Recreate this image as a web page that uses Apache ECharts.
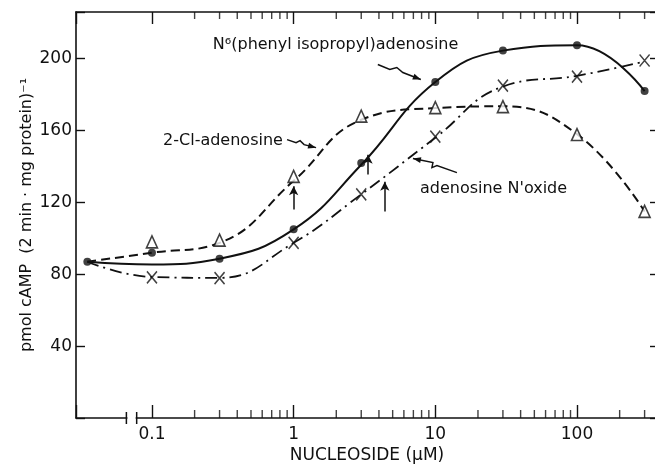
<!DOCTYPE html>
<html>
<head>
<meta charset="utf-8">
<script src="https://cdn.jsdelivr.net/npm/echarts@6/dist/echarts.min.js"></script>
<style>
  html, body { margin: 0; padding: 0; background: #fff; }
  #chart { width: 655px; height: 464px; }
</style>
</head>
<body>
<div id="chart"></div>
<script>
// nucleoside concentration (uM); first entry is the control, drawn left of the axis break
const conc = [0.035, 0.1, 0.3, 1, 3, 10, 30, 100, 300]

// measured points
const piaValues = [87, 92, 88.7, 105, 142, 187, 204.5, 207.5, 182]
const clAdoValues = [null, 98, 99, 134.5, 168, 172.8, 173.3, 157.8, 115]
const oxideValues = [null, 78.3, 77.8, 97.5, 124.5, 156.6, 185, 190, 199]

// the hand-drawn curves at the same concentrations
const piaCurve = [87, 85.5, 88.7, 105, 141, 187, 204.5, 207.5, 182]
const clAdoCurve = [87, 92, 97.5, 132, 166, 172.5, 173.5, 158, 115]
const oxideCurve = [87, 78.5, 78, 97.5, 124.5, 156, 184.5, 190.5, 198.5]

const xMajorTicks = [0.1, 1, 10, 100]
const xTickLabels = ['0.1', '1', '10', '100']
const xMinorTicks = [0.2, 0.3, 0.4, 0.5, 0.6, 0.7, 0.8, 0.9, 2, 3, 4, 5, 6, 7, 8, 9, 20, 30, 40, 50, 60, 70, 80, 90, 200, 300]
const yTicks = [40, 80, 120, 160, 200]

// small upward arrows: [conc, from, to]
const upArrows = [[1, 116, 129], [3.35, 135.5, 146.5], [4.4, 115, 131.5]]

const X_MIN = 0.0291
const X_MAX = 373
const Y_MAX = 226
const ink = '#111'
const font = 'DejaVu Sans'

const chart = echarts.init(document.getElementById('chart'))

function pairs(values) {
  const out = []
  for (let i = 0; i < conc.length; i++) {
    if (values[i] != null) out.push([conc[i], values[i]])
  }
  return out
}

function tickLabel(v) {
  const i = xMajorTicks.findIndex(t => Math.abs(Math.log10(t) - Math.log10(v)) < 1e-6)
  return i < 0 ? '' : xTickLabels[i]
}

function xAxis(position, len, showLabel) {
  return {
    type: 'log',
    logBase: 10,
    position: position,
    min: X_MIN,
    max: X_MAX,
    axisLine: { show: true, onZero: false, lineStyle: { color: ink, width: 1.6 } },
    axisTick: { show: true, inside: true, length: len, lineStyle: { color: ink, width: 1.4 } },
    axisLabel: {
      show: showLabel,
      customValues: xMajorTicks,
      margin: 8,
      color: ink,
      fontFamily: font,
      fontSize: 17,
      formatter: tickLabel
    },
    minorTick: { show: false },
    splitLine: { show: false }
  }
}

const xAxes = [xAxis('bottom', 13, true), xAxis('top', 12, false)]
Object.assign(xAxes[0], {
  name: 'NUCLEOSIDE (\u00b5M)',
  nameLocation: 'middle',
  nameGap: 29,
  nameMoveOverlap: false,
  nameTextStyle: { color: ink, fontFamily: font, fontSize: 17 }
})

function yAxis(position, showLabel, len) {
  return {
    type: 'value',
    position: position,
    min: 0,
    max: Y_MAX,
    interval: 40,
    axisLine: { show: true, onZero: false, lineStyle: { color: ink, width: 1.6 } },
    axisTick: { show: true, inside: true, length: len, lineStyle: { color: ink, width: 1.4 } },
    axisLabel: { show: showLabel, customValues: yTicks, margin: 4, color: ink, fontFamily: font, fontSize: 17 },
    splitLine: { show: false }
  }
}

const yAxes = [yAxis('left', true, 9), yAxis('right', false, 8)]
Object.assign(yAxes[0], {
  name: 'pmol cAMP  (2 min \u00b7 mg protein)\u207b\u00b9',
  nameLocation: 'middle',
  nameRotate: 90,
  nameGap: 41,
  nameMoveOverlap: false,
  nameTextStyle: { color: ink, fontFamily: font, fontSize: 16 }
})

// minor log ticks on bottom and top edges, placed through the axis scales
const minorTickStyle = {
  type: 'scatter',
  symbol: 'rect',
  silent: true,
  clip: false,
  itemStyle: { color: ink },
  z: 1
}

chart.setOption({
  animation: false,
  backgroundColor: '#fff',
  grid: { left: 76, right: -3, top: 12, bottom: 46, outerBoundsMode: 'none', containLabel: false },
  xAxis: xAxes,
  yAxis: yAxes,
  series: [
    {
      name: 'N6 curve',
      type: 'line',
      data: pairs(piaCurve),
      smooth: 0.45,
      symbol: 'none',
      lineStyle: { color: ink, width: 2 }
    },
    {
      name: '2-Cl curve',
      type: 'line',
      data: pairs(clAdoCurve),
      smooth: 0.45,
      symbol: 'none',
      lineStyle: { color: ink, width: 2, type: [9, 5] }
    },
    {
      name: 'oxide curve',
      type: 'line',
      data: pairs(oxideCurve),
      smooth: 0.45,
      symbol: 'none',
      lineStyle: { color: ink, width: 1.8, type: [12, 5, 2, 5] }
    },
    {
      name: 'N6(phenyl isopropyl)adenosine',
      type: 'scatter',
      data: pairs(piaValues),
      symbol: 'circle',
      symbolSize: 8,
      itemStyle: { color: ink },
      z: 5,
      markLine: {
        silent: true,
        symbol: ['none', 'arrow'],
        symbolSize: [7, 9],
        label: { show: false },
        lineStyle: { color: ink, width: 1.5, type: 'solid' },
        data: upArrows.map(a => [{ coord: [a[0], a[1]] }, { coord: [a[0], a[2]] }])
      }
    },
    {
      name: '2-Cl-adenosine',
      type: 'scatter',
      data: pairs(clAdoValues),
      symbol: 'triangle',
      symbolSize: [11, 12],
      itemStyle: { color: '#fff', borderColor: ink, borderWidth: 1.6 },
      z: 5
    },
    {
      name: 'adenosine N\'oxide',
      type: 'scatter',
      data: pairs(oxideValues),
      symbol: 'path://M0,0L10,12M10,0L0,12',
      symbolSize: [10, 12],
      itemStyle: { color: 'none', borderColor: ink, borderWidth: 1.6 },
      z: 5
    },
    Object.assign({
      name: 'minor ticks bottom',
      data: xMinorTicks.map(v => [v, 0]),
      symbolSize: [1.4, 8],
      symbolOffset: [0, -4]
    }, minorTickStyle),
    Object.assign({
      name: 'minor ticks top',
      data: xMinorTicks.map(v => [v, Y_MAX]),
      symbolSize: [1.4, 7],
      symbolOffset: [0, 3.5]
    }, minorTickStyle)
  ]
})

// annotations: labels, squiggly pointer arrows, axis break
function px(x, y) {
  return chart.convertToPixel({ xAxisIndex: 0, yAxisIndex: 0 }, [x, y])
}

const labels = [
  { at: [0.269, 207.6], text: 'N\u2076(phenyl isopropyl)adenosine', align: 'left' },
  { at: [0.84, 154.4], text: '2-Cl-adenosine', align: 'right' },
  { at: [7.79, 127.6], text: 'adenosine N\'oxide', align: 'left' }
]
const squiggles = [
  { tip: [7.9, 188.4], path: [[-43, -15], [-31, -10], [-24, -12], [-18, -7], [0, 0]] },
  { tip: [1.44, 150.5], path: [[-29, -8], [-20, -5], [-16, -7], [-12, -3], [0, 0]] },
  { tip: [6.95, 144.4], path: [[44, 14], [24, 7], [19, 9], [20, 4], [0, 0]] }
]

const graphics = []
labels.forEach(l => {
  const p = px(l.at[0], l.at[1])
  graphics.push({
    type: 'text',
    x: p[0],
    y: p[1],
    z: 100,
    style: { text: l.text, fill: ink, font: '16px "DejaVu Sans"', textAlign: l.align, textVerticalAlign: 'middle' }
  })
})
squiggles.forEach(s => {
  const t = px(s.tip[0], s.tip[1])
  const pts = s.path.map(d => [t[0] + d[0], t[1] + d[1]])
  graphics.push({
    type: 'polyline',
    z: 100,
    shape: { points: pts },
    style: { stroke: ink, lineWidth: 1.5, fill: null }
  })
  const a = pts[pts.length - 2]
  const dx = t[0] - a[0]
  const dy = t[1] - a[1]
  const len = Math.sqrt(dx * dx + dy * dy)
  const ux = dx / len
  const uy = dy / len
  graphics.push({
    type: 'polygon',
    z: 100,
    shape: {
      points: [
        [t[0], t[1]],
        [t[0] - ux * 8 - uy * 3, t[1] - uy * 8 + ux * 3],
        [t[0] - ux * 8 + uy * 3, t[1] - uy * 8 - ux * 3]
      ]
    },
    style: { fill: ink }
  })
})

// break in the concentration axis between control and 0.1 uM
const breakAt = [0.066, 0.078]
const axisY = px(1, 0)[1]
const bx = breakAt.map(v => px(v, 0)[0])
graphics.push({
  type: 'rect',
  z: 100,
  shape: { x: bx[0] + 1, y: axisY - 2, width: bx[1] - bx[0] - 2, height: 4 },
  style: { fill: '#fff' }
})
bx.forEach(x => {
  graphics.push({
    type: 'line',
    z: 100,
    shape: { x1: x, y1: axisY - 6, x2: x, y2: axisY + 6 },
    style: { stroke: ink, lineWidth: 1.5 }
  })
})

chart.setOption({ graphic: graphics })
</script>
</body>
</html>
